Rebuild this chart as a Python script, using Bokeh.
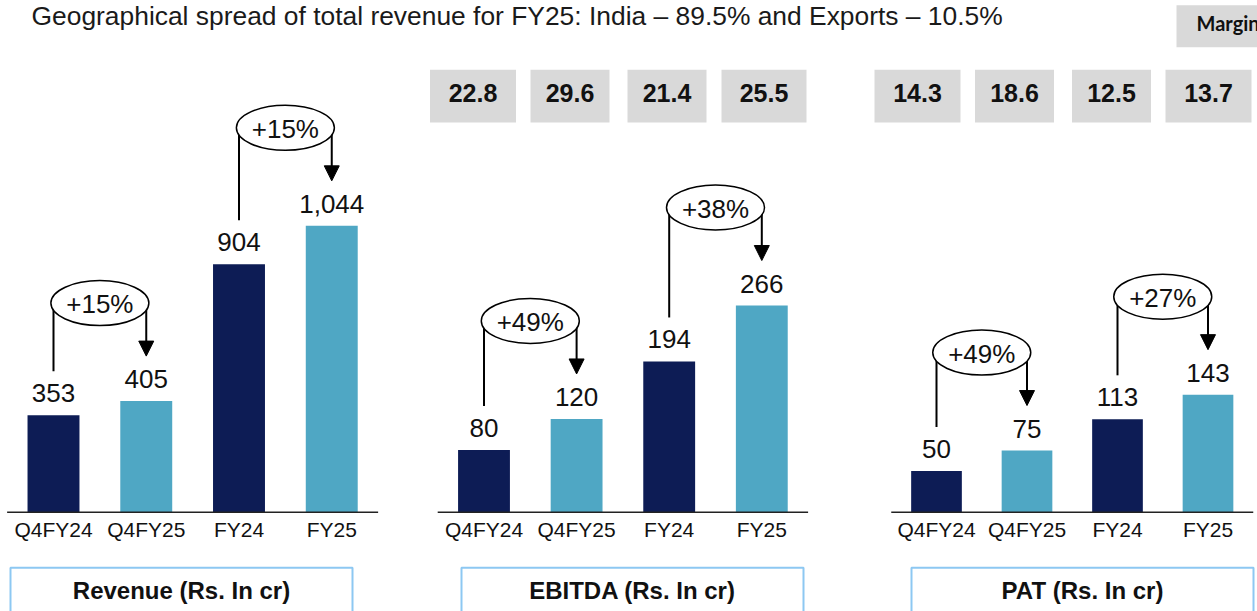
from bokeh.plotting import figure
from bokeh.layouts import column, row
from bokeh.models import Range1d, ColumnDataSource
from bokeh.core.properties import value
from bokeh.embed import file_html
from bokeh.resources import INLINE

# ---------------- data ----------------
CATEGORIES = ["Q4FY24", "Q4FY25", "FY24", "FY25"]
REVENUE = [353, 405, 904, 1044]
EBITDA = [80, 120, 194, 266]
PAT = [50, 75, 113, 143]
REVENUE_GROWTH = ["+15%", "+15%"]
EBITDA_GROWTH = ["+49%", "+38%"]
PAT_GROWTH = ["+49%", "+27%"]
EBITDA_MARGIN = [22.8, 29.6, 21.4, 25.5]
PAT_MARGIN = [14.3, 18.6, 12.5, 13.7]
PANEL_TITLES = ["Revenue (Rs. In cr)", "EBITDA (Rs. In cr)", "PAT (Rs. In cr)"]
HEADLINE = "Geographical spread of total revenue for FY25: India \u2013 89.5% and Exports \u2013 10.5%"
MARGIN_LABEL = "Margin"

# ---------------- style ----------------
NAVY = "#0D1C55"
LIGHT = "#4FA7C4"
GREY = "#D9D9D9"
BORDER = "#8DC8F2"
INK = "#111111"
FONT = value("Liberation Sans")
PAIRS = [(0, 1), (2, 3)]

PANEL_H = 561
BASE_PX = 461.7  # baseline distance from top of panel


def panel(values, growth, margins, label, W, bar0_px, step_px, k,
          box_left_px, mbox_first_px, mbox_w):
    x0 = -bar0_px / step_px
    p = figure(width=W, height=PANEL_H,
               x_range=Range1d(x0, x0 + W / step_px),
               y_range=Range1d(-(PANEL_H - BASE_PX) / k, BASE_PX / k),
               x_axis_location=None, y_axis_location=None,
               toolbar_location=None, output_backend="svg",
               min_border=0, outline_line_color=None)
    p.xgrid.grid_line_color = None
    p.ygrid.grid_line_color = None
    p.background_fill_color = "white"
    p.border_fill_color = "white"

    def dx(px):
        return px / step_px

    def dy(px):
        return px / k

    idx = list(range(len(CATEGORIES)))
    src = ColumnDataSource(dict(
        x=idx, top=values,
        color=[NAVY, LIGHT, NAVY, LIGHT],
        lab=[f"{v:,}" for v in values],
        cat=CATEGORIES,
    ))

    # bottom label box
    bl, br = dx(box_left_px), dx(box_left_px + 342)
    p.quad(left=[bl], right=[br], top=[-dy(55.6)], bottom=[-dy(300)],
           fill_color="white", line_color=BORDER, line_width=2)
    p.text(x=[(bl + br) / 2], y=[0], text=[label], y_offset=78,
           text_align="center", text_baseline="middle",
           text_font=FONT, text_font_size="24px", text_font_style="bold",
           text_color=INK)

    # bars
    p.vbar(x="x", top="top", bottom=0, width=0.56, source=src,
           fill_color="color", line_color=None)
    p.segment(x0=[-0.5], y0=[0], x1=[3.5], y1=[0],
              line_color="#222222", line_width=1.6)

    p.text(x="x", y="top", text="lab", source=src, y_offset=-22,
           text_align="center", text_baseline="middle",
           text_font=FONT, text_font_size="26px", text_color=INK)
    p.text(x="x", y=0, text="cat", source=src, y_offset=17.3,
           text_align="center", text_baseline="middle",
           text_font=FONT, text_font_size="21px", text_color=INK)

    # growth connectors
    for (a, b), g in zip(PAIRS, growth):
        ey = values[b] + dy(98)
        tip = values[b] + dy(45)
        p.segment(x0=[a], y0=[values[a] + dy(44)], x1=[a], y1=[ey],
                  line_color="black", line_width=2)
        p.segment(x0=[b], y0=[ey], x1=[b], y1=[tip + dy(13)],
                  line_color="black", line_width=2)
        p.patches(xs=[[b - dx(7.5), b + dx(7.5), b]],
                  ys=[[tip + dy(15), tip + dy(15), tip]],
                  fill_color="black", line_color="black", line_width=1)
        p.ellipse(x=[(a + b) / 2], y=[ey], width=98, height=45,
                  width_units="screen", height_units="screen",
                  fill_color="white", line_color="black", line_width=1.5)
        p.text(x=[(a + b) / 2], y=[ey], text=[g], y_offset=1,
               text_align="center", text_baseline="middle",
               text_font=FONT, text_font_size="26px", text_color=INK)

    # margin boxes
    if margins:
        mx = [dx(mbox_first_px + i * 97) for i in range(len(margins))]
        my = dy(BASE_PX - 45.7)
        msrc = ColumnDataSource(dict(x=mx, y=[my] * len(margins), w=mbox_w,
                                     t=[f"{m:.1f}" for m in margins]))
        p.rect(x="x", y="y", width="w", height=52.7, source=msrc,
               width_units="screen", height_units="screen",
               fill_color=GREY, line_color=None)
        p.text(x="x", y="y", text="t", source=msrc, y_offset=-3.5,
               text_align="center", text_baseline="middle",
               text_font=FONT, text_font_size="25px", text_font_style="bold",
               text_color=INK)
    return p


# header
hdr = figure(width=1257, height=50, x_range=Range1d(0, 1257), y_range=Range1d(50, 0),
             x_axis_location=None, y_axis_location=None, toolbar_location=None,
             output_backend="svg", min_border=0, outline_line_color=None)
hdr.xgrid.grid_line_color = None
hdr.ygrid.grid_line_color = None
hdr.text(x=[31], y=[15.2], text=[HEADLINE], text_align="left", text_baseline="middle",
         text_font=FONT, text_font_size="26.4px", text_color="#1a1a1a")
hdr.quad(left=[1176], right=[1300], top=[4.7], bottom=[46.7], fill_color=GREY, line_color=None)
hdr.text(x=[1196], y=[22.5], text=[MARGIN_LABEL], text_align="left", text_baseline="middle",
         text_font=value("Lato"), text_font_size="20px", text_font_style="bold",
         text_color=INK)

p1 = panel(REVENUE, REVENUE_GROWTH, None, PANEL_TITLES[0],
           W=420, bar0_px=53, step_px=92.75, k=0.2743,
           box_left_px=-43, mbox_first_px=0, mbox_w=[])
p2 = panel(EBITDA, EBITDA_GROWTH, EBITDA_MARGIN, PANEL_TITLES[1],
           W=435, bar0_px=63.5, step_px=92.6, k=0.777,
           box_left_px=-22.5, mbox_first_px=-11, mbox_w=[86, 79, 79, 85])
p3 = panel(PAT, PAT_GROWTH, PAT_MARGIN, PANEL_TITLES[2],
           W=402, bar0_px=81, step_px=90.5, k=0.822,
           box_left_px=-25, mbox_first_px=-19, mbox_w=[86, 79, 79, 86])

layout = column(hdr, row(p1, p2, p3, spacing=0), spacing=0)
open("out.html", "w").write(file_html(layout, INLINE))
